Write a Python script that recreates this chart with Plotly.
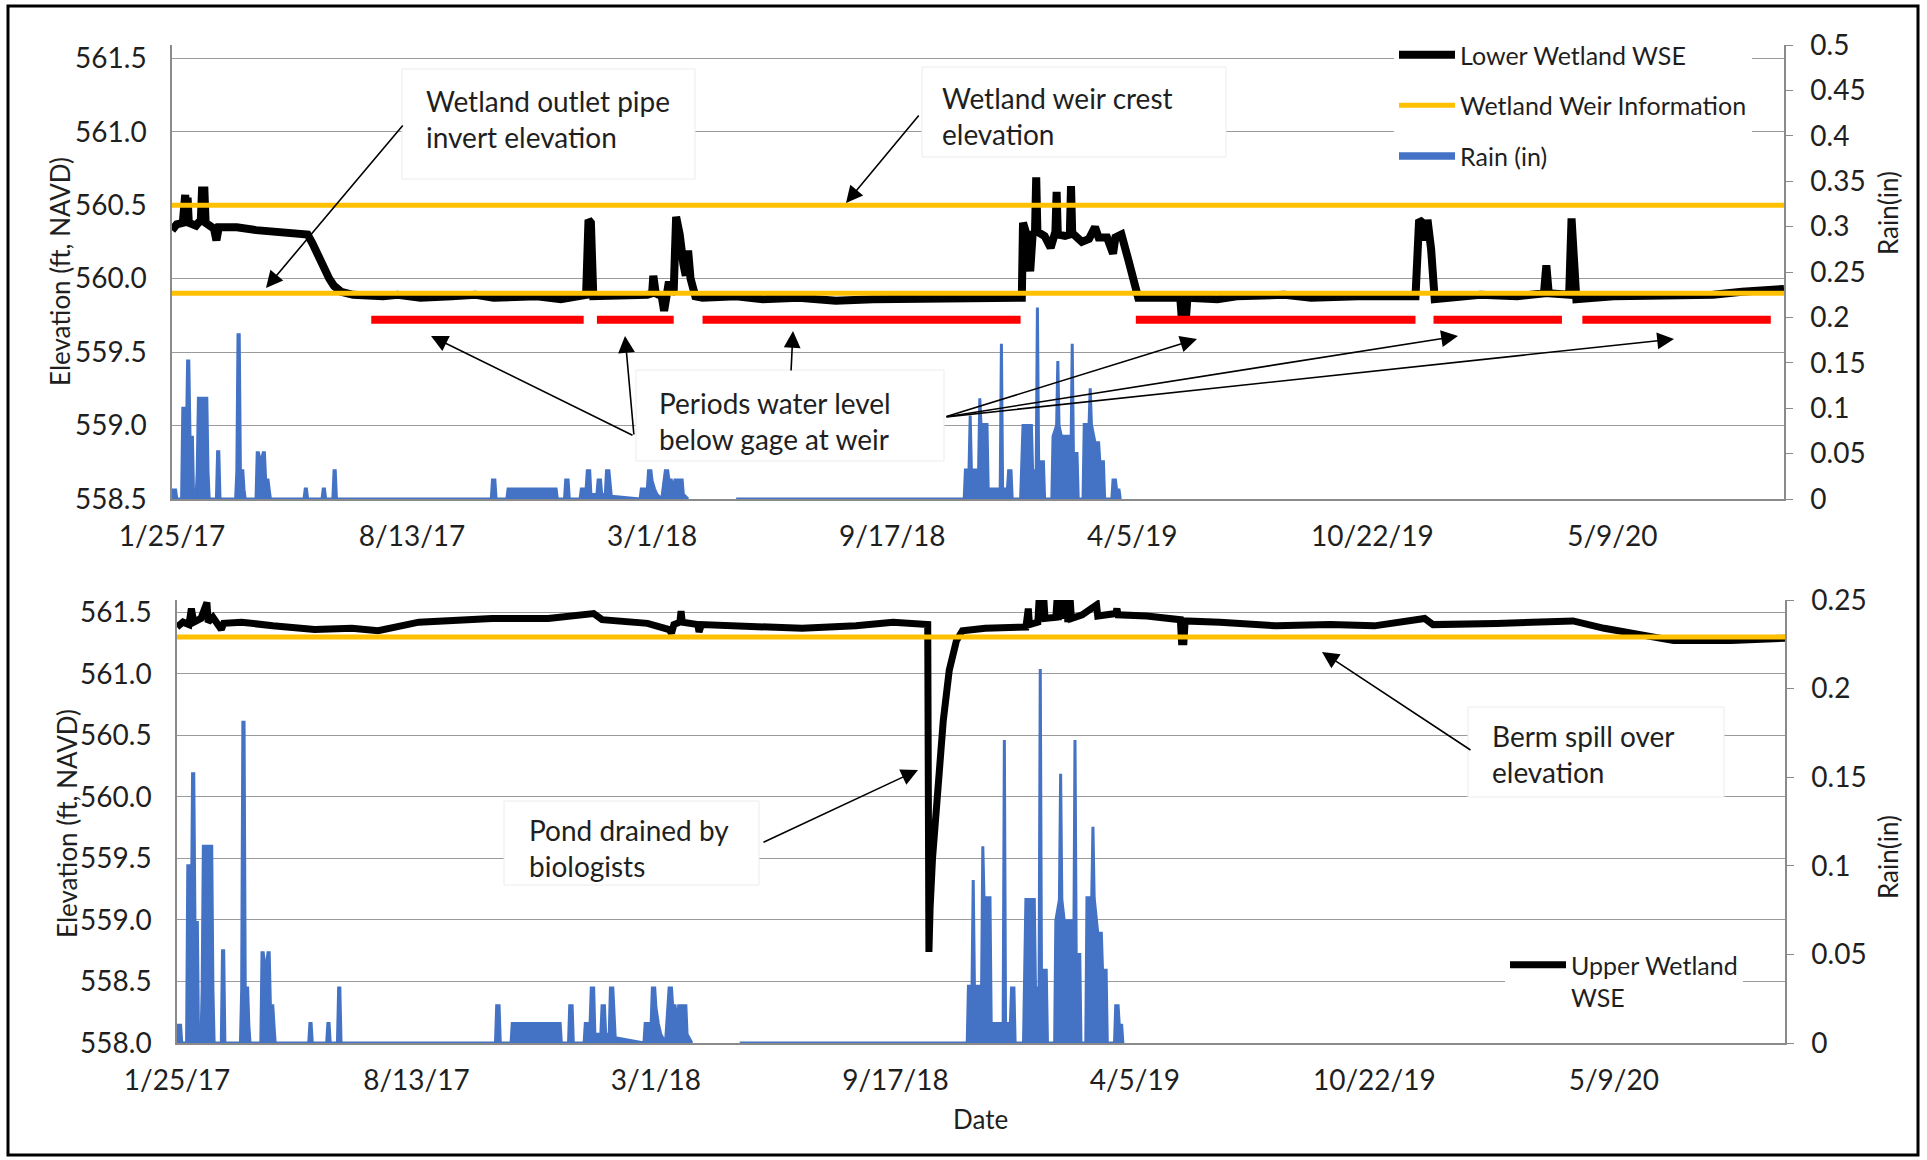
import plotly.graph_objects as go

W, H = 1927, 1160

# ---------------- data ----------------
x_start = "2017-01-25"
x_end = "2020-09-29"
date_ticks = ["2017-01-25", "2017-08-13", "2018-03-01", "2018-09-17",
              "2019-04-05", "2019-10-22", "2020-05-09"]
date_tick_labels = ["1/25/17", "8/13/17", "3/1/18", "9/17/18",
                    "4/5/19", "10/22/19", "5/9/20"]

lower_dates = [
    "2017-01-25", "2017-01-29", "2017-02-03", "2017-02-05", "2017-02-06", "2017-02-07", "2017-02-08",
    "2017-02-14", "2017-02-18", "2017-02-19", "2017-02-21", "2017-02-22", "2017-03-01", "2017-03-03",
    "2017-03-05", "2017-03-20", "2017-04-05", "2017-04-20", "2017-05-05", "2017-05-18", "2017-05-22",
    "2017-05-27", "2017-06-01", "2017-06-05", "2017-06-09", "2017-06-15", "2017-06-25", "2017-07-20",
    "2017-08-01", "2017-08-20", "2017-09-15", "2017-10-05", "2017-10-20", "2017-11-10", "2017-11-25",
    "2017-12-15", "2018-01-05", "2018-01-07", "2018-01-09", "2018-01-11",
    "2018-01-20", "2018-02-25", "2018-03-01", "2018-03-02", "2018-03-04", "2018-03-09", "2018-03-11",
    "2018-03-13", "2018-03-15", "2018-03-17", "2018-03-19", "2018-03-21", "2018-03-24", "2018-03-27",
    "2018-03-29", "2018-03-31", "2018-04-02", "2018-04-06", "2018-04-12", "2018-05-10", "2018-06-01",
    "2018-07-01", "2018-08-01", "2018-09-01", "2018-10-01", "2018-11-01", "2018-11-15", "2018-12-10",
    "2019-01-03", "2019-01-04", "2019-01-07", "2019-01-10", "2019-01-12",
    "2019-01-14", "2019-01-15", "2019-01-16", "2019-01-22", "2019-01-27", "2019-01-29", "2019-01-31",
    "2019-02-01", "2019-02-02", "2019-02-08", "2019-02-12", "2019-02-13", "2019-02-14", "2019-02-22",
    "2019-02-28", "2019-03-05", "2019-03-08", "2019-03-15", "2019-03-20", "2019-03-22", "2019-03-27",
    "2019-04-02", "2019-04-07", "2019-04-10", "2019-05-15", "2019-05-16", "2019-05-20", "2019-05-21",
    "2019-06-15", "2019-07-01", "2019-08-10", "2019-09-01", "2019-10-10", "2019-11-27", "2019-11-30",
    "2019-12-03", "2019-12-05", "2019-12-07", "2019-12-10", "2019-12-13", "2020-01-20", "2020-02-20",
    "2020-03-13", "2020-03-15", "2020-03-17", "2020-04-03", "2020-04-05", "2020-04-09", "2020-05-10",
    "2020-06-01", "2020-07-10", "2020-08-01", "2020-08-25", "2020-09-29"]
lower_wse = [
    560.33, 560.37, 560.38, 560.57, 560.40, 560.55, 560.38,
    560.36, 560.40, 560.60, 560.60, 560.38, 560.34, 560.26,
    560.35, 560.35, 560.33, 560.32, 560.31, 560.30, 560.24,
    560.15, 560.08, 560.00, 559.95, 559.91, 559.89, 559.88,
    559.89, 559.87, 559.88, 559.89, 559.87, 559.88, 559.88,
    559.86, 559.89, 560.40, 560.38, 559.88,
    559.88, 559.89, 559.90, 560.02, 559.90, 559.88, 559.78,
    559.88, 559.98, 559.90, 559.92, 560.42, 560.30, 560.10,
    560.02, 560.19, 560.00, 559.88, 559.87, 559.88, 559.86,
    559.87, 559.85, 559.86, 559.86, 559.87, 559.87, 559.86,
    559.87, 560.38, 560.30, 560.05, 560.30,
    560.32, 560.69, 560.32, 560.29, 560.21, 560.30, 560.32,
    560.59, 560.30, 560.29, 560.30, 560.63, 560.31, 560.25,
    560.27, 560.35, 560.28, 560.28, 560.17, 560.28, 560.30,
    560.12, 559.93, 559.87, 559.87, 559.76, 559.76, 559.87,
    559.86, 559.88, 559.89, 559.87, 559.88, 559.88, 560.40,
    560.38, 560.26, 560.40, 560.20, 559.86, 559.89, 559.88,
    559.90, 560.09, 559.90, 559.89, 560.41, 559.86, 559.88,
    559.88, 559.89, 559.89, 559.91, 559.93]

upper_dates = [
    "2017-01-25", "2017-01-30", "2017-02-04", "2017-02-06", "2017-02-08", "2017-02-14", "2017-02-19",
    "2017-02-20", "2017-02-24", "2017-03-03", "2017-03-05", "2017-03-20", "2017-04-15", "2017-05-20",
    "2017-06-20", "2017-07-12", "2017-08-15", "2017-10-15", "2017-12-01", "2018-01-08", "2018-01-15",
    "2018-02-22", "2018-03-12", "2018-03-14", "2018-03-16", "2018-03-21", "2018-03-22", "2018-03-23",
    "2018-04-05", "2018-04-06", "2018-04-08", "2018-05-15", "2018-07-01", "2018-08-15", "2018-09-15",
    "2018-10-14", "2018-10-15", "2018-10-16", "2018-10-18", "2018-10-21", "2018-10-24", "2018-10-27",
    "2018-11-01", "2018-11-07", "2018-11-12", "2018-12-01", "2019-01-04", "2019-01-06", "2019-01-07",
    "2019-01-14", "2019-01-15", "2019-01-16", "2019-01-19", "2019-01-20", "2019-01-29", "2019-01-30",
    "2019-01-31", "2019-02-03", "2019-02-04", "2019-02-07", "2019-02-08", "2019-02-10", "2019-02-11",
    "2019-02-20", "2019-03-04", "2019-03-05", "2019-03-20", "2019-03-21", "2019-03-22", "2019-04-15",
    "2019-05-13", "2019-05-14", "2019-05-16", "2019-05-17", "2019-06-15", "2019-08-01", "2019-09-15",
    "2019-10-22", "2019-12-03", "2019-12-10", "2020-02-01", "2020-04-05", "2020-05-01", "2020-05-25",
    "2020-06-10", "2020-06-28", "2020-08-15", "2020-09-29"]
upper_wse = [
    561.38, 561.42, 561.40, 561.53, 561.42, 561.45, 561.58,
    561.42, 561.46, 561.36, 561.41, 561.42, 561.39, 561.36,
    561.37, 561.35, 561.42, 561.45, 561.45, 561.49, 561.44,
    561.41, 561.36, 561.33, 561.40, 561.42, 561.51, 561.42,
    561.40, 561.34, 561.40, 561.39, 561.37, 561.39, 561.42,
    561.40, 558.74, 559.10, 559.50, 559.85, 560.30, 560.62,
    561.03, 561.27, 561.35, 561.37, 561.38, 561.53, 561.40,
    561.42, 561.60, 561.43, 561.60, 561.45, 561.46, 561.60,
    561.44, 561.60, 561.45, 561.60, 561.42, 561.60, 561.45,
    561.48, 561.56, 561.47, 561.49, 561.53, 561.48, 561.47,
    561.44, 561.26, 561.26, 561.43, 561.42, 561.39, 561.40,
    561.39, 561.45, 561.40, 561.41, 561.43, 561.37, 561.33,
    561.30, 561.27, 561.27, 561.29]

rain_dates = [
    "2017-01-25", "2017-01-28", "2017-01-29", "2017-02-02", "2017-02-03", "2017-02-05", "2017-02-06",
    "2017-02-07", "2017-02-08", "2017-02-09", "2017-02-11", "2017-02-12", "2017-02-14", "2017-02-15",
    "2017-02-16", "2017-02-23", "2017-02-24", "2017-02-25", "2017-03-03", "2017-03-04", "2017-03-05",
    "2017-03-06", "2017-03-19", "2017-03-20", "2017-03-21", "2017-03-22", "2017-03-23", "2017-03-25",
    "2017-03-26", "2017-03-27", "2017-04-05", "2017-04-06", "2017-04-07", "2017-04-09", "2017-04-11",
    "2017-04-12", "2017-04-13", "2017-04-15", "2017-04-16", "2017-04-17", "2017-05-15", "2017-05-16",
    "2017-05-17", "2017-05-18", "2017-05-30", "2017-05-31", "2017-06-01", "2017-06-02", "2017-06-08",
    "2017-06-09", "2017-06-10", "2017-06-11", "2017-10-18", "2017-10-19", "2017-10-21", "2017-10-22",
    "2017-10-31", "2017-11-01", "2017-12-11", "2017-12-12", "2017-12-18", "2017-12-19", "2017-12-21",
    "2017-12-22", "2017-12-31", "2018-01-01", "2018-01-05", "2018-01-06", "2018-01-08", "2018-01-09",
    "2018-01-14", "2018-01-15", "2018-01-17", "2018-01-18", "2018-01-21", "2018-01-22", "2018-01-24",
    "2018-01-26", "2018-02-19", "2018-02-20", "2018-02-25", "2018-02-26", "2018-02-28", "2018-03-01",
    "2018-03-03", "2018-03-05", "2018-03-09", "2018-03-10", "2018-03-12", "2018-03-14", "2018-03-15",
    "2018-03-17", "2018-03-19", "2018-03-20", "2018-03-26", "2018-03-27", "2018-03-31", "2018-04-20",
    "2018-05-10", "2018-11-16", "2018-11-17", "2018-11-20", "2018-11-21", "2018-11-22", "2018-11-28",
    "2018-11-29", "2018-11-30", "2018-12-05", "2018-12-06", "2018-12-16", "2018-12-17", "2018-12-18",
    "2018-12-22", "2018-12-23", "2018-12-25", "2018-12-26", "2019-01-02", "2019-01-03", "2019-01-04",
    "2019-01-11", "2019-01-12", "2019-01-15", "2019-01-16", "2019-01-17", "2019-01-21", "2019-01-22",
    "2019-01-28", "2019-01-29", "2019-02-01", "2019-02-02", "2019-02-03", "2019-02-05", "2019-02-12",
    "2019-02-13", "2019-02-14", "2019-02-15", "2019-02-18", "2019-02-19", "2019-02-23", "2019-02-24",
    "2019-02-28", "2019-03-01", "2019-03-02", "2019-03-05", "2019-03-08", "2019-03-09", "2019-03-12",
    "2019-03-13", "2019-03-19", "2019-03-20", "2019-03-22", "2019-03-23", "2019-03-25", "2019-03-26"]
rain_in = [
    0.010, 0.010, 0, 0, 0.100, 0.100, 0.068,
    0.152, 0.152, 0.068, 0.068, 0, 0, 0.030,
    0.111, 0.111, 0.030, 0, 0, 0.052, 0.052,
    0, 0, 0.030, 0.181, 0.181, 0.031, 0.031,
    0.010, 0, 0, 0.051, 0.051, 0.040, 0.051,
    0.051, 0.021, 0.021, 0.010, 0, 0, 0.011,
    0.011, 0, 0, 0.011, 0.011, 0, 0,
    0.031, 0.031, 0, 0, 0.021, 0.021, 0,
    0, 0.011, 0.011, 0, 0, 0.021, 0.021,
    0, 0, 0.011, 0.011, 0.031, 0.031, 0.005,
    0.005, 0.021, 0.021, 0.005, 0.005, 0.031, 0.031,
    0.003, 0, 0.011, 0.011, 0.031, 0.031, 0.020,
    0.011, 0.005, 0, 0.011, 0.031, 0.031, 0.021,
    0.021, 0.011, 0.021, 0.021, 0.005, 0, None,
    0, 0, 0.032, 0.032, 0.092, 0.032, 0.032,
    0.111, 0.082, 0.082, 0.011, 0.011, 0.171, 0.011,
    0.011, 0.031, 0.031, 0, 0, 0.031, 0.081,
    0.081, 0.031, 0.031, 0.211, 0.041, 0.041, 0,
    0, 0.069, 0.081, 0.152, 0.081, 0.069, 0.069,
    0.050, 0.171, 0.050, 0.050, 0, 0, 0.082,
    0.082, 0.122, 0.082, 0.062, 0.062, 0.041, 0.041,
    0, 0, 0.021, 0.021, 0.010, 0.010, 0]

weir_crest_elev = 560.50
pipe_invert_elev = 559.90
berm_spill_elev = 561.30
gage_low_marker = 559.72
below_gage_starts = ["2017-07-10", "2018-01-14", "2018-04-12", "2019-04-08", "2019-12-12", "2020-04-14"]
below_gage_ends = ["2018-01-03", "2018-03-19", "2019-01-02", "2019-11-27", "2020-03-28", "2020-09-18"]

# ---------------- styling ----------------
FONT = "Lato"
TXT = "#1f1f1f"
GRID = "#9b9b9b"
AXL = "#8a8a8a"
BLACK = "#000000"
GOLD = "#FFC000"
BLUE = "#4472C4"
RED = "#FF0000"
FS_TICK = 28
FS_NOTE = 28
FS_TITLE = 26
FS_LEG = 25


def px(x):
    return x / W


def py(y):
    return 1 - y / H


fig = go.Figure()

# ---- top chart ----
fig.add_trace(go.Scatter(x=lower_dates, y=lower_wse, mode="lines", name="Lower Wetland WSE",
                         line=dict(color=BLACK, width=8), xaxis="x", yaxis="y",
                         legend="legend", legendgroup="a"))
fig.add_trace(go.Scatter(x=[x_start, x_end, None, x_start, x_end],
                         y=[weir_crest_elev, weir_crest_elev, None, pipe_invert_elev, pipe_invert_elev],
                         mode="lines", name="Wetland Weir Information",
                         line=dict(color=GOLD, width=5), xaxis="x", yaxis="y",
                         legend="legend", legendgroup="b"))
red_x, red_y = [], []
for s, e in zip(below_gage_starts, below_gage_ends):
    red_x += [s, e, None]
    red_y += [gage_low_marker, gage_low_marker, None]
fig.add_trace(go.Scatter(x=red_x, y=red_y, mode="lines", showlegend=False,
                         line=dict(color=RED, width=8), xaxis="x", yaxis="y"))
fig.add_trace(go.Scatter(x=rain_dates, y=rain_in, mode="lines", name="Rain (in)",
                         line=dict(color=BLUE, width=3), fill="tozeroy", fillcolor=BLUE,
                         connectgaps=False, xaxis="x", yaxis="y2",
                         legend="legend", legendgroup="c"))

# ---- bottom chart ----
fig.add_trace(go.Scatter(x=upper_dates, y=upper_wse, mode="lines", name="Upper Wetland<br>WSE",
                         line=dict(color=BLACK, width=7), xaxis="x2", yaxis="y3",
                         legend="legend2"))
fig.add_trace(go.Scatter(x=[x_start, x_end], y=[berm_spill_elev, berm_spill_elev], mode="lines",
                         showlegend=False, line=dict(color=GOLD, width=5), xaxis="x2", yaxis="y3"))
fig.add_trace(go.Scatter(x=rain_dates, y=rain_in, mode="lines", showlegend=False,
                         line=dict(color=BLUE, width=3), fill="tozeroy", fillcolor=BLUE,
                         connectgaps=False, xaxis="x2", yaxis="y4"))

tickfont = dict(family=FONT, size=FS_TICK, color=TXT)

xcommon = dict(type="date", range=[x_start, x_end], tickvals=date_ticks, ticktext=date_tick_labels,
               showgrid=False, showline=True, linecolor=AXL, linewidth=1.5, ticks="",
               tickfont=tickfont, ticklabelstandoff=12, zeroline=False, automargin=False)
yleft = dict(dtick=0.5, tickformat=".1f", showgrid=True, gridcolor=GRID, gridwidth=1.2,
             showline=True, linecolor=AXL, linewidth=1.5, ticks="", tickfont=tickfont,
             ticklabelstandoff=18, zeroline=False, automargin=False)
yright = dict(dtick=0.05, tick0=0, showgrid=False, showline=True, linecolor=AXL, linewidth=1.5,
              ticks="outside", ticklen=7, tickcolor=AXL, tickfont=tickfont,
              ticklabelstandoff=12, zeroline=False, side="right", automargin=False)

fig.update_layout(
    width=W, height=H, margin=dict(l=0, r=0, t=0, b=0, pad=0), autosize=False,
    paper_bgcolor="white", plot_bgcolor="white",
    font=dict(family=FONT, size=FS_TICK, color=TXT),
    xaxis=dict(domain=[px(172), px(1784)], anchor="y", **xcommon),
    yaxis=dict(domain=[py(499), py(45)], range=[558.5, 561.59], tick0=558.5, anchor="x", **yleft),
    yaxis2=dict(range=[0, 0.5], overlaying="y", anchor="x", **yright),
    xaxis2=dict(domain=[px(177), px(1785)], anchor="y3", **xcommon),
    yaxis3=dict(domain=[py(1043), py(600)], range=[558.0, 561.6], tick0=558.0, anchor="x2", **yleft),
    yaxis4=dict(range=[0, 0.25], overlaying="y3", anchor="x2", **yright),
    legend=dict(x=px(1394), y=py(32), xanchor="left", yanchor="top", bgcolor="white",
                font=dict(family=FONT, size=FS_LEG, color=TXT), tracegroupgap=15,
                traceorder="grouped", itemwidth=56, borderwidth=0),
    legend2=dict(x=px(1505), y=py(942), xanchor="left", yanchor="top", bgcolor="white",
                 font=dict(family=FONT, size=FS_LEG, color=TXT), itemwidth=56, valign="top",
                 borderwidth=0),
    showlegend=True,
)

shapes = []
# outer frame
shapes.append(dict(type="rect", xref="paper", yref="paper", x0=px(8), x1=px(1918), y0=py(1155), y1=py(6),
                   line=dict(color="black", width=3), fillcolor="rgba(0,0,0,0)", layer="above"))
# text boxes
boxes = [(402, 69, 695, 179), (922, 67, 1226, 157), (636, 370, 944, 461),
         (504, 801, 759, 885), (1468, 707, 1724, 797)]
for x0, y0, x1, y1 in boxes:
    shapes.append(dict(type="rect", xref="paper", yref="paper", x0=px(x0), x1=px(x1), y0=py(y1), y1=py(y0),
                       line=dict(color="#ececec", width=1), fillcolor="white", layer="above"))
fig.update_layout(shapes=shapes)

ann = []
texts = [
    ("Wetland outlet pipe<br>invert elevation", 424, 119),
    ("Wetland weir crest<br>elevation", 940, 116),
    ("Periods water level<br>below gage at weir", 657, 421),
    ("Pond drained by<br>biologists", 527, 848),
    ("Berm spill over<br>elevation", 1490, 754),
]
for t, x, y in texts:
    ann.append(dict(text=t, xref="paper", yref="paper", x=px(x), y=py(y), xanchor="left", yanchor="middle",
                    align="left", showarrow=False, font=dict(family=FONT, size=FS_NOTE, color=TXT)))

# axis titles
ann += [
    dict(text="Elevation (ft, NAVD)", x=px(60), y=py(272), textangle=-90),
    dict(text="Rain(in)", x=px(1888), y=py(213), textangle=-90),
    dict(text="Elevation (ft, NAVD)", x=px(67), y=py(824), textangle=-90),
    dict(text="Rain(in)", x=px(1888), y=py(857), textangle=-90),
    dict(text="Date", x=px(980), y=py(1119)),
]
for a in ann[-5:]:
    a.update(xref="paper", yref="paper", showarrow=False, xanchor="center", yanchor="middle",
             font=dict(family=FONT, size=FS_TITLE, color=TXT))

# arrows: (tail_x, tail_y, head_x, head_y) in pixels
arrows = [
    (404, 124, 266, 288),
    (920, 114, 846, 203),
    (634, 436, 431, 336),
    (634, 436, 625, 336),
    (791, 372, 793, 331),
    (945, 417, 1197, 339),
    (945, 417, 1458, 336),
    (945, 417, 1674, 339),
    (762, 843, 918, 770),
    (1472, 751, 1322, 652),
]
for tx, ty, hx, hy in arrows:
    ann.append(dict(text="", xref="paper", yref="paper", x=px(hx), y=py(hy), ax=tx - hx, ay=ty - hy,
                    axref="pixel", ayref="pixel", showarrow=True, arrowhead=2, arrowsize=2.1,
                    arrowwidth=1.6, arrowcolor="black", standoff=0, startstandoff=0))
fig.update_layout(annotations=ann)

fig.write_html("out.html", config={"displayModeBar": False},
               post_script="document.body.style.margin='0';document.body.style.overflow='hidden';")
